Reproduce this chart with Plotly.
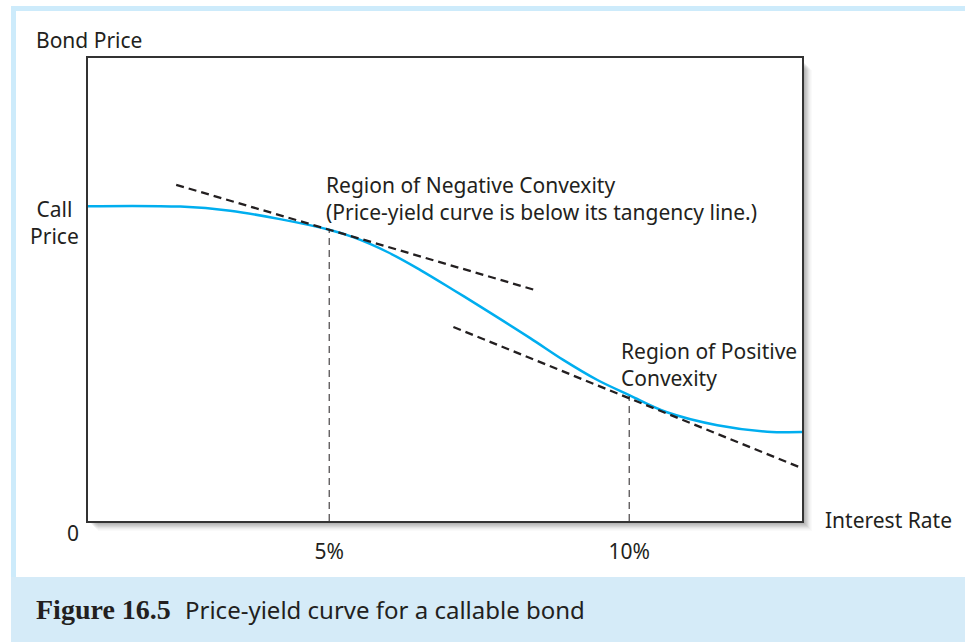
import plotly.graph_objects as go

# ---- data ----
rate = [0.98, 2.52, 3.35, 4.18, 5.0, 5.4, 5.97, 6.52, 7.07, 7.52, 8.35, 8.9, 9.47, 10.0, 10.63, 11.47, 12.3, 12.88]
price = [68.0, 67.9, 67.0, 65.2, 62.9, 61.3, 58.1, 54.2, 49.9, 46.3, 39.5, 34.8, 30.45, 27.2, 23.5, 20.7, 19.3, 19.2]

tan1_x = [2.45, 8.48]
tan1_y = [72.6, 49.7]
tan2_x = [7.07, 12.88]
tan2_y = [41.9, 11.4]

drop_x = [5.0, 10.0]
drop_y = [62.9, 27.0]

tick_vals = [5, 10]
tick_text = ["5%", "10%"]

W, H = 965, 642
L, R, T, B = 88, 802, 58, 521  # plot area in pixels

def px(x):
    return (x - L) / (R - L)

def py(y):
    return (B - y) / (B - T)

FONT = "Noto Sans"
TXT = "#231f20"
fig = go.Figure()

fig.add_trace(go.Scatter(x=rate, y=price, mode="lines", line=dict(color="#00aeef", width=2.5, shape="spline", smoothing=1.0),
                         hoverinfo="skip", showlegend=False))
fig.add_trace(go.Scatter(x=tan1_x, y=tan1_y, mode="lines", line=dict(color="#231f20", width=2.3, dash="8px,5px"),
                         showlegend=False, hoverinfo="skip"))
fig.add_trace(go.Scatter(x=tan2_x, y=tan2_y, mode="lines", line=dict(color="#231f20", width=2.3, dash="8px,5px"),
                         showlegend=False, hoverinfo="skip"))
for dx, dy in zip(drop_x, drop_y):
    fig.add_trace(go.Scatter(x=[dx, dx], y=[0, dy], mode="lines", line=dict(color="#231f20", width=1, dash="7px,5px"),
                             showlegend=False, hoverinfo="skip"))

shapes = []
# light blue frame strips
shapes.append(dict(type="rect", xref="paper", yref="paper", x0=px(11), x1=px(965), y0=py(11), y1=py(6),
                   fillcolor="#cdebfb", line=dict(width=0), layer="below"))
shapes.append(dict(type="rect", xref="paper", yref="paper", x0=px(11), x1=px(16), y0=py(577), y1=py(6),
                   fillcolor="#cdebfb", line=dict(width=0), layer="below"))
# caption band
shapes.append(dict(type="rect", xref="paper", yref="paper", x0=px(11), x1=px(965), y0=py(642), y1=py(577),
                   fillcolor="#d5ebf8", line=dict(width=0), layer="below"))
# soft shadow of the plot box
for i, op in enumerate([0.05, 0.05, 0.05, 0.05, 0.04, 0.03, 0.02, 0.02]):
    d = i + 1
    shapes.append(dict(type="rect", xref="paper", yref="paper", x0=px(L + d + 2), x1=px(R + d + 2),
                       y0=py(B + d + 2), y1=py(T + d + 4), fillcolor="rgba(0,0,0,%s)" % op,
                       line=dict(width=0), layer="below"))
# white plot area on top of shadow
shapes.append(dict(type="rect", xref="paper", yref="paper", x0=0, x1=1, y0=0, y1=1,
                   fillcolor="white", line=dict(width=0), layer="below"))

ann = []
def text(x, y, s, anchor="left", size=21, family=FONT, color=TXT):
    ann.append(dict(xref="paper", yref="paper", x=px(x), y=py(y), text=s, showarrow=False,
                    xanchor=anchor, yanchor="middle", align=anchor if anchor != "center" else "center",
                    font=dict(family=family, size=size, color=color)))

text(34, 40, "Bond Price")
text(54, 222, "Call<br>Price", anchor="center")
text(324, 198, "Region of Negative Convexity<br>(Price-yield curve is below its tangency line.)")
text(619, 364, "Region of Positive<br>Convexity")
text(73, 533, "0", anchor="center")
text(823, 520, "Interest Rate")
text(34, 609, "<b>Figure 16.5</b>", size=28, family="Liberation Serif", color="#231f20")
text(183, 609, "Price-yield curve for a callable bond", size=24)

fig.update_layout(
    width=W, height=H,
    margin=dict(l=L, r=W - R, t=T, b=H - B, pad=0),
    paper_bgcolor="white", plot_bgcolor="rgba(0,0,0,0)",
    shapes=shapes, annotations=ann,
    xaxis=dict(range=[0.98, 12.88], tickvals=tick_vals, ticktext=tick_text, showgrid=False, zeroline=False,
               showline=True, mirror=True, linecolor="#333333", linewidth=1.5, ticks="", ticklen=0,
               tickfont=dict(family=FONT, size=21, color=TXT), ticklabelstandoff=11),
    yaxis=dict(range=[0, 100], showticklabels=False, showgrid=False, zeroline=False,
               showline=True, mirror=True, linecolor="#333333", linewidth=1.5, ticks=""),
    showlegend=False,
)

fig.write_html("out.html", config={"displayModeBar": False},
               post_script="document.body.style.margin='0px';document.body.style.overflow='hidden';")
